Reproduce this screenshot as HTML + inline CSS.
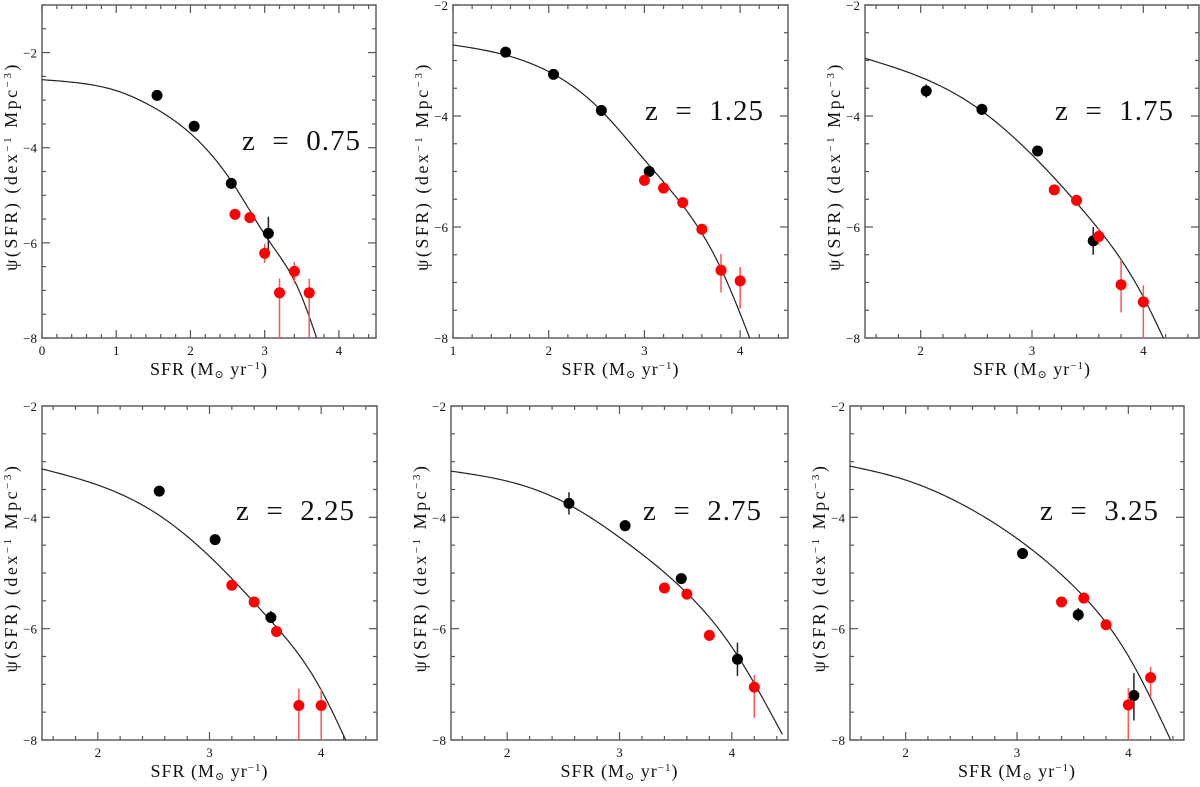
<!DOCTYPE html>
<html><head><meta charset="utf-8"><style>
body{margin:0;background:#fff;width:1200px;height:782px;overflow:hidden}
svg text{font-family:"Liberation Serif","DejaVu Serif",serif;fill:#111}
</style></head><body>
<svg id="fig" width="1200" height="782" xmlns="http://www.w3.org/2000/svg"></svg>
<script>
// Panel data
const p1Label = "z  =  0.75";
const p1Black = [[1.55,-2.9,0,0],[2.05,-3.55,0,0],[2.55,-4.75,0,0],[3.05,-5.8,0.35,0.35]];
const p1Red = [[2.6,-5.4,0,0],[2.8,-5.47,0,0],[3.0,-6.22,0.2,0.2],[3.2,-7.05,0.3,1.0],[3.4,-6.6,0.2,0.25],[3.6,-7.05,0.3,1.0]];
const p1Curve = [[0,-2.57],[0.5,-2.64],[1.0,-2.8],[1.5,-3.15],[2.0,-3.7],[2.55,-4.7],[3.05,-5.94],[3.48,-7.06],[3.7,-8]];
const p2Label = "z  =  1.25";
const p2Black = [[1.55,-2.85,0,0],[2.05,-3.25,0,0],[2.55,-3.9,0,0],[3.05,-5.0,0,0]];
const p2Red = [[3.0,-5.16,0,0],[3.2,-5.3,0,0],[3.4,-5.56,0,0],[3.6,-6.04,0.1,0.1],[3.8,-6.78,0.3,0.4],[4.0,-6.97,0.25,0.5]];
const p2Curve = [[1.0,-2.72],[1.5,-2.88],[2.0,-3.2],[2.5,-3.82],[3.0,-4.79],[3.5,-5.85],[3.8,-6.75],[4.1,-8]];
const p3Label = "z  =  1.75";
const p3Black = [[2.05,-3.55,0.12,0.12],[2.55,-3.88,0.1,0.1],[3.05,-4.63,0,0],[3.55,-6.25,0.25,0.25]];
const p3Red = [[3.2,-5.33,0,0],[3.4,-5.52,0,0],[3.6,-6.17,0.15,0.15],[3.8,-7.04,0.45,0.5],[4.0,-7.35,0.3,0.65]];
const p3Curve = [[1.5,-2.96],[2.0,-3.3],[2.5,-3.84],[3.0,-4.7],[3.5,-5.8],[4.0,-7.26],[4.18,-8]];
const p4Label = "z  =  2.25";
const p4Black = [[2.55,-3.53,0,0],[3.05,-4.4,0,0],[3.55,-5.8,0.12,0.1]];
const p4Red = [[3.2,-5.22,0,0],[3.4,-5.52,0,0],[3.6,-6.05,0.1,0.1],[3.8,-7.38,0.3,0.62],[4.0,-7.38,0.3,0.62]];
const p4Curve = [[1.5,-3.13],[2.0,-3.42],[2.5,-3.9],[3.0,-4.7],[3.5,-5.75],[4.0,-7.1],[4.22,-8]];
const p5Label = "z  =  2.75";
const p5Black = [[2.55,-3.75,0.2,0.2],[3.05,-4.15,0.1,0.1],[3.55,-5.1,0,0],[4.05,-6.55,0.3,0.3]];
const p5Red = [[3.4,-5.27,0,0],[3.6,-5.38,0,0],[3.8,-6.12,0.1,0.1],[4.2,-7.05,0.22,0.55]];
const p5Curve = [[1.5,-3.17],[2.0,-3.35],[2.5,-3.72],[3.0,-4.36],[3.5,-5.17],[4.0,-6.33],[4.45,-7.9]];
const p6Label = "z  =  3.25";
const p6Black = [[3.05,-4.65,0.1,0.1],[3.55,-5.75,0.12,0.12],[4.05,-7.2,0.4,0.45]];
const p6Red = [[3.4,-5.52,0,0],[3.6,-5.45,0,0],[3.8,-5.93,0,0],[4.0,-7.37,0.3,0.63],[4.2,-6.88,0.2,0.35]];
const p6Curve = [[1.5,-3.08],[2.0,-3.33],[2.5,-3.76],[3.0,-4.38],[3.5,-5.22],[4.0,-6.49],[4.38,-8]];

const NS="http://www.w3.org/2000/svg";
const svg=document.getElementById('fig');
function mk(tag,attrs,parent){const e=document.createElementNS(NS,tag);for(const k in attrs)e.setAttribute(k,attrs[k]);(parent||svg).appendChild(e);return e;}

// natural cubic spline through data points (in data space)
function spline(P){
 const n=P.length,x=P.map(p=>p[0]),y=P.map(p=>p[1]);
 const h=[],al=[],l=[1],mu=[0],z=[0],c=new Array(n).fill(0);
 for(let i=0;i<n-1;i++)h.push(x[i+1]-x[i]);
 for(let i=1;i<n-1;i++)al[i]=3/h[i]*(y[i+1]-y[i])-3/h[i-1]*(y[i]-y[i-1]);
 for(let i=1;i<n-1;i++){l[i]=2*(x[i+1]-x[i-1])-h[i-1]*mu[i-1];mu[i]=h[i]/l[i];z[i]=(al[i]-h[i-1]*z[i-1])/l[i];}
 const b=[],d=[];
 for(let j=n-2;j>=0;j--){c[j]=(j>0?z[j]-mu[j]*c[j+1]:0);}
 c[0]=0;
 for(let j=0;j<n-1;j++){b[j]=(y[j+1]-y[j])/h[j]-h[j]*(c[j+1]+2*c[j])/3;d[j]=(c[j+1]-c[j])/(3*h[j]);}
 const out=[];
 for(let j=0;j<n-1;j++)for(let k=0;k<20;k++){const t=h[j]*k/20;out.push([x[j]+t,y[j]+b[j]*t+c[j]*t*t+d[j]*t*t*t]);}
 out.push(P[n-1]);return out;
}

const panels=[
 {id:1,box:[42,5,376,338],xr:[0,4.5],yr:[-8,-1],lab:p1Label,black:p1Black,red:p1Red,curve:p1Curve,labX:242,labY:150},
 {id:2,box:[453,5,788,338],xr:[1,4.5],yr:[-8,-2],lab:p2Label,black:p2Black,red:p2Red,curve:p2Curve,labX:645,labY:120},
 {id:3,box:[865,5,1199,338],xr:[1.5,4.5],yr:[-8,-2],lab:p3Label,black:p3Black,red:p3Red,curve:p3Curve,labX:1055,labY:120},
 {id:4,box:[42,406,377,740],xr:[1.5,4.5],yr:[-8,-2],lab:p4Label,black:p4Black,red:p4Red,curve:p4Curve,labX:236,labY:520},
 {id:5,box:[451,406,788,740],xr:[1.5,4.5],yr:[-8,-2],lab:p5Label,black:p5Black,red:p5Red,curve:p5Curve,labX:643,labY:520},
 {id:6,box:[850,406,1184,740],xr:[1.5,4.5],yr:[-8,-2],lab:p6Label,black:p6Black,red:p6Red,curve:p6Curve,labX:1040,labY:520}
];

panels.forEach(p=>{
 const [x0,y0,x1,y1]=p.box;
 const g=mk('g',{});
 
 
 const X=v=>x0+(v-p.xr[0])/(p.xr[1]-p.xr[0])*(x1-x0);
 const Y=v=>y1-(v-p.yr[0])/(p.yr[1]-p.yr[0])*(y1-y0);
 const frame=mk('rect',{x:x0,y:y0,width:x1-x0,height:y1-y0,fill:'none',stroke:'#555','stroke-width':1.4},g);
 
 
 for(let i=Math.ceil(p.xr[0]*5-1e-6);i<=Math.floor(p.xr[1]*5+1e-6);i++){
  const v=i/5,xx=X(v),maj=(i%5===0),L=maj?8:4;
  mk('line',{x1:xx,y1:y1,x2:xx,y2:y1-L,stroke:'#555','stroke-width':1.2},g);
  mk('line',{x1:xx,y1:y0,x2:xx,y2:y0+L,stroke:'#555','stroke-width':1.2},g);
  if(maj){const t=mk('text',{x:xx,y:y1+17,'font-size':13,'text-anchor':'middle'},g);t.textContent=String(v);
   }
 }
 for(let i=Math.ceil(p.yr[0]*2-1e-6);i<=Math.floor(p.yr[1]*2+1e-6);i++){
  const v=i/2,yy=Y(v),maj=(i%4===0),L=maj?8:4;
  mk('line',{x1:x0,y1:yy,x2:x0+L,y2:yy,stroke:'#555','stroke-width':1.2},g);
  mk('line',{x1:x1,y1:yy,x2:x1-L,y2:yy,stroke:'#555','stroke-width':1.2},g);
  if(maj){const t=mk('text',{x:x0-5,y:yy+5,'font-size':13,'text-anchor':'end'},g);t.textContent='\u2212'+Math.abs(v);
   }
 }
 const pts=spline(p.curve).map(c=>X(c[0]).toFixed(2)+','+Y(c[1]).toFixed(2));
 const cp=mk('polyline',{points:pts.join(' '),fill:'none',stroke:'#222','stroke-width':1.2},g);
 
 
 const drawPts=(arr,col,ecol,name)=>arr.forEach(q=>{
  const cx=X(q[0]),cy=Y(q[1]);
  if(q[2]||q[3]){const el=mk('line',{x1:cx,y1:Math.max(Y(q[1]+q[2]),y0),x2:cx,y2:Math.min(Y(q[1]-q[3]),y1),stroke:ecol,'stroke-width':1.5},g);
   }
  const c=mk('circle',{cx:cx,cy:cy,r:5.5,fill:col},g);
  
  
 });
 drawPts(p.black,'#000','#222','black');
 drawPts(p.red,'#f00','#f55','red');
 const lt=mk('text',{x:p.labX,y:p.labY,'font-size':29,'letter-spacing':1},g);
 lt.setAttribute('style','white-space:pre');
 lt.textContent=p.lab;
 
 
 const xt=mk('text',{x:(x0+x1)/2,y:y1+37,'font-size':18,'text-anchor':'middle','letter-spacing':1},g);
 xt.innerHTML='SFR (M<tspan font-size="11" dy="3">\u2299</tspan><tspan dy="-3"> yr</tspan><tspan font-size="11" dy="-6">\u22121</tspan><tspan dy="6">)</tspan>';
 
 
 const cy=(y0+y1)/2-5, tx=x0-30;
 const yt=mk('text',{x:0,y:0,'font-size':18,'letter-spacing':2.5,'text-anchor':'middle',transform:'translate('+(tx+5)+','+cy+') rotate(-90)'},g);
 yt.innerHTML='\u03C8(SFR) (dex<tspan font-size="11" dy="-6">\u22121</tspan><tspan dy="6"> Mpc</tspan><tspan font-size="11" dy="-6">\u22123</tspan><tspan dy="6">)</tspan>';
 
 
});
</script>
</body></html>
